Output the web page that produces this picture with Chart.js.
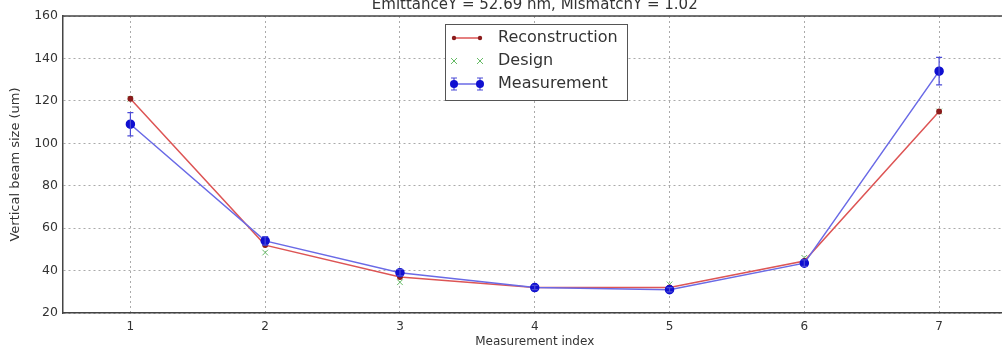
<!DOCTYPE html>
<html>
<head>
  <title>Vertical beam size</title>
  <script src="https://cdn.jsdelivr.net/npm/chart.js"></script>
  <style>
    html, body { margin: 0; padding: 0; overflow: hidden; background: #fff; }
  </style>
</head>
<body>
  <canvas id="myChart" width="1012" height="353"></canvas>

  <script>
    // data
    const indices = [1, 2, 3, 4, 5, 6, 7];
    const reconstruction = [121, 52, 37, 32, 32, 44.5, 115];
    const design = [121, 48.5, 34.5, 32, 33.5, 46, 115];
    const measurement = [109, 54, 39, 32, 31, 43.5, 134];
    const measurementErr = [5.5, 2, 1.5, 1, 1, 1.5, 6.5];
    const yTicks = [20, 40, 60, 80, 100, 120, 140, 160];
    const titleText = 'EmittanceY = 52.69 nm, MismatchY = 1.02';

    const pts = arr => indices.map((x, i) => ({ x: x, y: arr[i] }));

    const font = 'DejaVu Sans';
    const textColor = '#333';

    // error bars on the measurement series
    const errorBars = {
      id: 'errorBars',
      afterDatasetsDraw(chart) {
        const ctx = chart.ctx;
        const xs = chart.scales.x, ys = chart.scales.y;
        ctx.save();
        ctx.strokeStyle = '#4b4bd6';
        ctx.lineWidth = 1.2;
        indices.forEach((x, i) => {
          const px = xs.getPixelForValue(x);
          const top = ys.getPixelForValue(measurement[i] + measurementErr[i]);
          const bot = ys.getPixelForValue(measurement[i] - measurementErr[i]);
          ctx.beginPath();
          ctx.moveTo(px, top); ctx.lineTo(px, bot);
          ctx.moveTo(px - 3, top); ctx.lineTo(px + 3, top);
          ctx.moveTo(px - 3, bot); ctx.lineTo(px + 3, bot);
          ctx.stroke();
        });
        ctx.restore();
      }
    };

    // title, top frame line and matplotlib style legend
    const decorations = {
      id: 'decorations',
      afterDraw(chart) {
        const ctx = chart.ctx;
        const a = chart.chartArea;
        ctx.save();
        ctx.strokeStyle = '#444';
        ctx.lineWidth = 1.5;
        ctx.beginPath();
        ctx.moveTo(a.left, a.top); ctx.lineTo(a.right, a.top);
        ctx.stroke();

        ctx.fillStyle = textColor;
        ctx.font = '15px "' + font + '"';
        ctx.textAlign = 'center';
        ctx.textBaseline = 'alphabetic';
        ctx.fillText(titleText, (a.left + a.right) / 2, 9);

        // legend box
        const bx = 445, by = 24, bw = 182, bh = 76;
        ctx.fillStyle = '#fff';
        ctx.fillRect(bx, by, bw, bh);
        ctx.strokeStyle = '#555';
        ctx.lineWidth = 1;
        ctx.strokeRect(bx + 0.5, by + 0.5, bw, bh);

        const rows = [38, 61, 84];
        const x0 = 454, x1 = 480;
        // reconstruction
        ctx.strokeStyle = '#dd5555';
        ctx.lineWidth = 1.5;
        ctx.beginPath(); ctx.moveTo(x0, rows[0]); ctx.lineTo(x1, rows[0]); ctx.stroke();
        ctx.fillStyle = '#8b1c1c';
        [x0, x1].forEach(x => { ctx.beginPath(); ctx.arc(x, rows[0], 2.2, 0, Math.PI * 2); ctx.fill(); });
        // design
        ctx.strokeStyle = '#66bb66';
        ctx.lineWidth = 1;
        [x0, x1].forEach(x => {
          ctx.beginPath();
          ctx.moveTo(x - 3, rows[1] - 3); ctx.lineTo(x + 3, rows[1] + 3);
          ctx.moveTo(x - 3, rows[1] + 3); ctx.lineTo(x + 3, rows[1] - 3);
          ctx.stroke();
        });
        // measurement
        ctx.strokeStyle = '#6a6ae6';
        ctx.lineWidth = 1.5;
        ctx.beginPath(); ctx.moveTo(x0, rows[2]); ctx.lineTo(x1, rows[2]); ctx.stroke();
        ctx.strokeStyle = '#4b4bd6';
        ctx.lineWidth = 1.2;
        [x0, x1].forEach(x => {
          ctx.beginPath();
          ctx.moveTo(x, rows[2] - 6); ctx.lineTo(x, rows[2] + 6);
          ctx.moveTo(x - 3, rows[2] - 6); ctx.lineTo(x + 3, rows[2] - 6);
          ctx.moveTo(x - 3, rows[2] + 6); ctx.lineTo(x + 3, rows[2] + 6);
          ctx.stroke();
        });
        ctx.fillStyle = '#1010d0';
        [x0, x1].forEach(x => { ctx.beginPath(); ctx.arc(x, rows[2], 4, 0, Math.PI * 2); ctx.fill(); });

        ctx.fillStyle = textColor;
        ctx.font = '16px "' + font + '"';
        ctx.textAlign = 'left';
        ctx.textBaseline = 'middle';
        ctx.fillText('Reconstruction', 498, rows[0]);
        ctx.fillText('Design', 498, rows[1]);
        ctx.fillText('Measurement', 498, rows[2]);
        ctx.restore();
      }
    };

    const gridStyle = {
      color: '#aaa',
      lineWidth: 1,
      tickLength: 0
    };

    const ctx = document.getElementById('myChart').getContext('2d');
    const myChart = new Chart(ctx, {
      type: 'line',
      data: {
        datasets: [
          {
            label: 'Measurement',
            data: pts(measurement),
            borderColor: '#6a6ae6',
            backgroundColor: '#1010d0',
            pointBackgroundColor: '#1010d0',
            pointBorderColor: '#1010d0',
            pointRadius: 4,
            borderWidth: 1.5,
            fill: false
          },
          {
            label: 'Reconstruction',
            data: pts(reconstruction),
            borderColor: '#dd5555',
            pointBackgroundColor: '#8b1c1c',
            pointBorderColor: '#8b1c1c',
            pointRadius: 2.2,
            borderWidth: 1.5,
            fill: false
          },
          {
            label: 'Design',
            data: pts(design),
            showLine: false,
            pointStyle: 'crossRot',
            pointRadius: 4,
            pointBorderColor: '#66bb66',
            pointBorderWidth: 1,
            borderColor: '#66bb66'
          }
        ]
      },
      options: {
        responsive: false,
        animation: false,
        layout: { padding: { top: 16, right: 2, left: 0, bottom: 0 } },
        plugins: {
          legend: { display: false },
          tooltip: { enabled: false }
        },
        scales: {
          x: {
            type: 'linear',
            min: 0.5,
            max: 7.5,
            afterBuildTicks: s => { s.ticks = indices.map(v => ({ value: v })); },
            afterFit: s => { s.height = 40; },
            grid: Object.assign({}, gridStyle),
            border: { display: true, color: '#444', width: 1.5, dash: [2, 3] },
            ticks: { color: textColor, font: { family: font, size: 12 }, padding: 7, maxRotation: 0 },
            title: { display: true, text: 'Measurement index', color: textColor, font: { family: font, size: 12 }, padding: { top: 0, bottom: 4 } }
          },
          y: {
            min: 20,
            max: 160,
            afterBuildTicks: s => { s.ticks = yTicks.map(v => ({ value: v })); },
            afterFit: s => { s.width = 63; },
            grid: Object.assign({}, gridStyle),
            border: { display: true, color: '#444', width: 1.5, dash: [2, 3] },
            ticks: { color: textColor, font: { family: font, size: 12.5 }, padding: 5 },
            title: { display: true, text: 'Vertical beam size (um)', color: textColor, font: { family: font, size: 13 }, padding: { top: 8, bottom: 0 } }
          }
        }
      },
      plugins: [errorBars, decorations]
    });
  </script>
</body>
</html>
